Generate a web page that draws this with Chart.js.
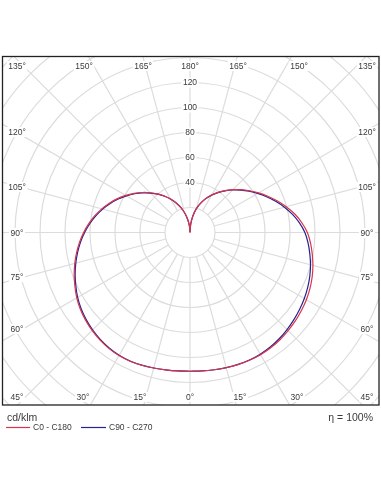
<!DOCTYPE html>
<html>
<head>
<meta charset="utf-8">
<script src="https://cdn.jsdelivr.net/npm/chart.js@4/dist/chart.umd.min.js"></script>
<style>
html,body{margin:0;padding:0;background:#fff;}
#wrap{width:381px;height:492px;position:relative;}
</style>
</head>
<body>
<div id="wrap"><canvas id="c"></canvas></div>
<script>
// ---- data (cd/klm) ----
const gammas = [0,5,10,15,20,25,30,35,40,45,50,55,60,65,70,75,80,85,90,95,100,105,110,115,120,125,130,135,140,145,150,155,160,165,170,175,180];
const c0   = [111,111.2,111.5,112.0,112.5,112.8,112.9,112.6,112.0,111.0,110.0,108.8,107.5,105.9,104.0,101.8,99.3,96.8,93.9,89.8,85.1,79.7,74.1,68.6,63.3,58.2,53.3,48.5,43.8,39.2,34.7,30.0,25.0,19.8,13.6,6.9,0];
const c180 = [111,111.2,111.6,112.2,113.0,113.6,113.7,113.2,112.2,110.8,109.1,107.1,104.6,101.6,98.6,95.4,92.1,88.7,85.1,81.3,77.3,73.1,68.7,64.1,59.4,54.6,49.8,45.0,40.3,35.6,30.9,26.1,21.1,15.9,10.6,5.3,0];
const c90  = [111,111.2,111.5,111.9,112.3,112.5,112.4,111.9,111.0,109.8,108.5,107.1,105.6,103.9,102.0,99.8,97.3,94.8,91.9,87.9,83.3,78.2,72.9,67.6,62.5,57.6,52.8,48.1,43.5,39.0,34.5,29.9,25.0,19.8,13.6,6.9,0];
const c270 = [111,111.2,111.6,112.2,112.9,113.4,113.4,112.8,111.7,110.2,108.4,106.3,103.8,100.8,97.8,94.6,91.3,87.9,84.3,80.5,76.5,72.3,67.9,63.3,58.7,54.0,49.3,44.6,40.0,35.4,30.8,26.1,21.1,15.9,10.6,5.3,0];
const ringValues = [20,40,60,80,100,120,140,160,180,200,220];
const ringLabels = ["40","60","80","100","120"];
const gridAngles = [0,15,30,45,60,75,90,105,120,135,150,165,180,195,210,225,240,255,270,285,300,315,330,345];
const seriesNames = ["C0 - C180","C90 - C270"];
const unitLabel = "cd/klm";
const effLabel = "\u03B7 = 100%";
const topLabels = ["135°","150°","165°","180°","165°","150°","135°"];
const sideLabels = ["120°","105°","90°","75°","60°","45°"];
const bottomLabels = ["30°","15°","0°","15°","30°"];

// ---- layout (pixels) ----
const topX = [17,84,143,190,238,299,367];
const sideY = [132,187,233,277,329,397];
const bottomX = [83,140,190,240,297];

function halfPlane(left, right){
  const pts = [];
  for(let i=gammas.length-1;i>=0;i--){
    const g = gammas[i]*Math.PI/180;
    pts.push({x:-left[i]*Math.sin(g), y:-left[i]*Math.cos(g)});
  }
  for(let i=0;i<gammas.length;i++){
    const g = gammas[i]*Math.PI/180;
    pts.push({x:right[i]*Math.sin(g), y:-right[i]*Math.cos(g)});
  }
  return pts;
}

const RED = "#d8344c", BLUE = "#24238f", GRID = "#dcdcdc", TXT = "#3a3a3a";
const FONT = "'Liberation Sans', Arial, sans-serif";

const polarPlugin = {
  id:'polar',
  beforeDatasetsDraw(chart){
    const {ctx, chartArea:a, scales:{x, y}} = chart;
    const cx = x.getPixelForValue(0), cy = y.getPixelForValue(0);
    const k = (x.getPixelForValue(100)-cx)/100;
    ctx.save();
    ctx.beginPath(); ctx.rect(a.left,a.top,a.right-a.left,a.bottom-a.top); ctx.clip();
    ctx.strokeStyle = GRID; ctx.lineWidth = 1.2;
    ringValues.forEach(r=>{ ctx.beginPath(); ctx.arc(cx,cy,r*k,0,Math.PI*2); ctx.stroke(); });
    gridAngles.forEach(d=>{
      const t = d*Math.PI/180;
      ctx.beginPath();
      ctx.moveTo(cx+Math.sin(t)*20*k, cy+Math.cos(t)*20*k);
      ctx.lineTo(cx+Math.sin(t)*300*k, cy+Math.cos(t)*300*k);
      ctx.stroke();
    });
    ctx.font = "8.5px "+FONT; ctx.textAlign="center"; ctx.textBaseline="middle";
    const lab = (t,px,py)=>{
      const w = ctx.measureText(t).width;
      ctx.fillStyle="#fff"; ctx.fillRect(px-w/2-1.5,py-5,w+3,10);
      ctx.fillStyle=TXT; ctx.fillText(t,px,py+0.5);
    };
    ringLabels.forEach(t=>{ lab(t, cx, y.getPixelForValue(Number(t))); });
    topLabels.forEach((t,i)=>lab(t, topX[i], 66));
    sideLabels.forEach((t,i)=>{ lab(t, 17, sideY[i]); lab(t, 367, sideY[i]); });
    bottomLabels.forEach((t,i)=>lab(t, bottomX[i], 397));
    ctx.restore();
  },
  afterDraw(chart){
    const {ctx, chartArea:a} = chart;
    ctx.save();
    ctx.strokeStyle="#222"; ctx.lineWidth=1.3;
    ctx.strokeRect(a.left-0.5,a.top-0.5,a.right-a.left+0.5,a.bottom-a.top+0.5);
    ctx.fillStyle=TXT; ctx.textBaseline="alphabetic";
    ctx.font="10.5px "+FONT; ctx.textAlign="left";
    ctx.fillText(unitLabel, 7, 421);
    ctx.textAlign="right";
    ctx.fillText(effLabel, 373, 421);
    ctx.textAlign="left"; ctx.font="8.5px "+FONT; ctx.textBaseline="middle";
    ctx.lineWidth=1.2;
    ctx.strokeStyle=RED; ctx.beginPath(); ctx.moveTo(6,427.5); ctx.lineTo(30,427.5); ctx.stroke();
    ctx.fillText(seriesNames[0], 33, 428);
    ctx.strokeStyle=BLUE; ctx.beginPath(); ctx.moveTo(81,427.5); ctx.lineTo(106,427.5); ctx.stroke();
    ctx.fillText(seriesNames[1], 109, 428);
    ctx.restore();
  }
};

new Chart(document.getElementById('c'), {
  type:'scatter',
  data:{datasets:[
    {label:seriesNames[0], data:halfPlane(c180,c0), showLine:true, borderColor:RED, borderWidth:1.2, pointRadius:0, tension:0.3, fill:false},
    {label:seriesNames[1], data:halfPlane(c270,c90), showLine:true, borderColor:BLUE, borderWidth:1.2, pointRadius:0, tension:0.3, fill:false}
  ]},
  options:{
    responsive:true, maintainAspectRatio:false, animation:false,
    layout:{padding:{left:3,top:57,right:2,bottom:87}},
    plugins:{legend:{display:false}, tooltip:{enabled:false}},
    scales:{
      x:{type:'linear', display:false, min:-149.6, max:151.2},
      y:{type:'linear', display:false, min:-138, max:140.4}
    }
  },
  plugins:[polarPlugin]
});
</script>
</body>
</html>
